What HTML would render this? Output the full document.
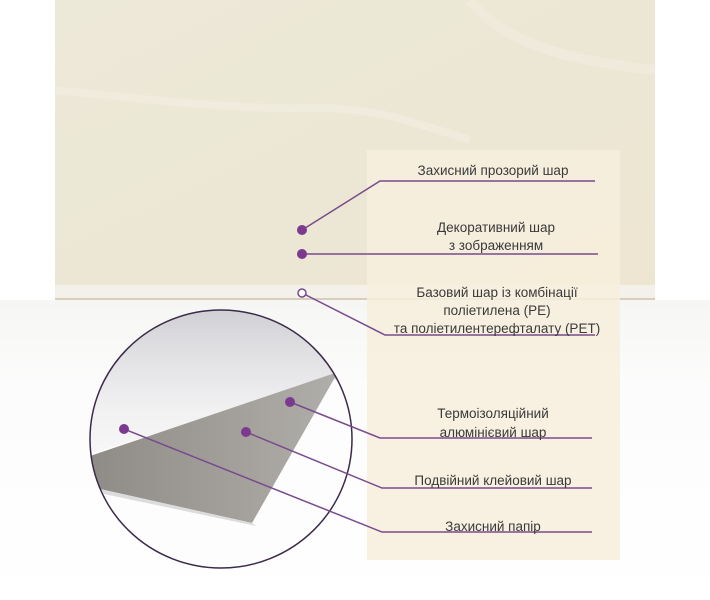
<!DOCTYPE html>
<html><head><meta charset="utf-8"><style>
html,body{margin:0;padding:0;background:#fff;}
body{width:710px;height:600px;overflow:hidden;position:relative;font-family:"Liberation Sans","DejaVu Sans",sans-serif;}
svg{position:absolute;left:0;top:0;}
</style></head><body>
<svg width="710" height="600" viewBox="0 0 710 600">
<defs>
<linearGradient id="bg" x1="0" y1="0" x2="0" y2="1">
<stop offset="0" stop-color="#f6f6f4"/><stop offset="0.3" stop-color="#fcfcfc"/><stop offset="1" stop-color="#ffffff"/>
</linearGradient>
<linearGradient id="marb" x1="0" y1="0" x2="1" y2="1">
<stop offset="0" stop-color="#ede9d8"/><stop offset="0.5" stop-color="#ece7d5"/><stop offset="1" stop-color="#eee5d1"/>
</linearGradient>
<linearGradient id="top" x1="0" y1="0" x2="0" y2="1">
<stop offset="0" stop-color="#cfcfd3"/><stop offset="0.35" stop-color="#e2e2e5"/><stop offset="0.7" stop-color="#f1f1f2"/><stop offset="1" stop-color="#f7f7f7"/>
</linearGradient>
<linearGradient id="foil" x1="0" y1="0" x2="1" y2="0">
<stop offset="0" stop-color="#8e8b86"/><stop offset="0.5" stop-color="#a09d98"/><stop offset="1" stop-color="#b0aeaa"/>
</linearGradient>
<clipPath id="cc"><ellipse cx="221" cy="439" rx="131" ry="129"/></clipPath>
</defs>
<rect x="0" y="300" width="710" height="300" fill="url(#bg)"/>
<rect x="55" y="0" width="600" height="300" fill="url(#marb)"/>
<path d="M55 90 C150 100 240 110 320 108 C380 108 420 125 470 140" stroke="#f1ede0" stroke-width="8" fill="none" opacity="0.7"/>
<path d="M470 0 C500 40 560 60 655 70" stroke="#f1ece0" stroke-width="10" fill="none" opacity="0.6"/>
<rect x="55" y="285" width="600" height="14" fill="#f3f1ea"/>
<rect x="55" y="298" width="600" height="2" fill="#d7cfbb"/>
<rect x="367" y="150" width="253" height="410" fill="#f7eedd" opacity="0.85"/>
<g clip-path="url(#cc)">
<rect x="85" y="305" width="275" height="270" fill="#fdfdfd"/>
<path d="M85 305 L360 305 L360 372 L85 455 Z" fill="url(#top)"/>
<path d="M93 455 L338 372 L252 523 L100 489 L85 487 L85 458 Z" fill="url(#foil)"/>
<path d="M100 489 L252 523 L256 526 L104 494 Z" fill="#dcdcdc"/>
</g>
<ellipse cx="221" cy="439" rx="131" ry="129" fill="none" stroke="#3b2a4a" stroke-width="1.5"/>
<g stroke="#7a4a8c" stroke-width="1.5" fill="none">
<polyline points="302,230 380,181 595,181"/>
<polyline points="302,254 598,254"/>
<polyline points="302,293 385,335 595,335"/>
<polyline points="290,402 380,438 592,438"/>
<polyline points="246,432 382,488 592,488"/>
<polyline points="124,429 382,532 592,532"/>
</g>
<g fill="#7b3a8e">
<circle cx="302" cy="230" r="5"/>
<circle cx="302" cy="254" r="5"/>
<circle cx="290" cy="402" r="5"/>
<circle cx="246" cy="432" r="5"/>
<circle cx="124" cy="429" r="5"/>
</g>
<circle cx="302" cy="293" r="4" fill="#fff" stroke="#7a4a8c" stroke-width="1.5"/>
<g font-size="13.5" fill="#3a3a3a" text-anchor="middle">
<text x="493" y="175">Захисний прозорий шар</text>
<text x="496" y="232">Декоративний шар</text>
<text x="496" y="250">з зображенням</text>
<text x="497" y="297">Базовий шар із комбінації</text>
<text x="497" y="315">поліетилена (PE)</text>
<text x="497" y="333">та поліетилентерефталату (PET)</text>
<text x="493" y="418">Термоізоляційний</text>
<text x="493" y="437">алюмінієвий шар</text>
<text x="493" y="485">Подвійний клейовий шар</text>
<text x="493" y="531">Захисний папір</text>
</g>
</svg>
</body></html>
